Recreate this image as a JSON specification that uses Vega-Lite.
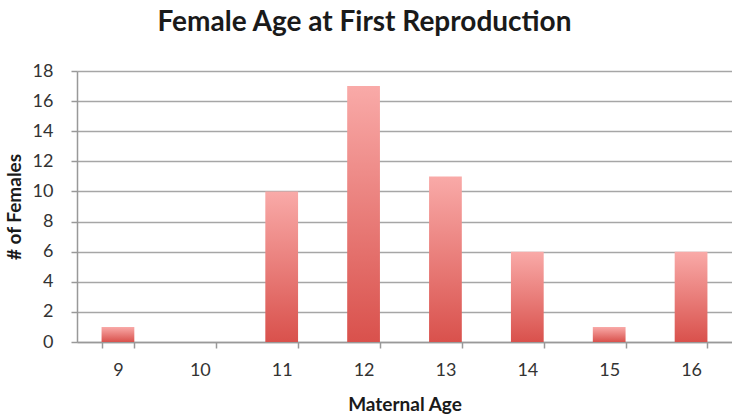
{
  "$schema": "https://vega.github.io/schema/vega-lite/v6.json",
  "autosize": "none",
  "width": 655,
  "height": 271,
  "padding": {"left": 77, "top": 71, "right": 0, "bottom": 75},
  "background": "white",
  "title": {
    "text": "Female Age at First Reproduction",
    "font": "Lato",
    "fontSize": 28,
    "fontWeight": "bold",
    "color": "#1a1a1a",
    "anchor": "middle",
    "dx": -40,
    "offset": 25
  },
  "data": {
    "values": [
      {"age": "9", "females": 1},
      {"age": "10", "females": 0},
      {"age": "11", "females": 10},
      {"age": "12", "females": 17},
      {"age": "13", "females": 11},
      {"age": "14", "females": 6},
      {"age": "15", "females": 1},
      {"age": "16", "females": 6}
    ]
  },
  "mark": {
    "type": "bar",
    "fill": {
      "gradient": "linear",
      "x1": 0, "y1": 0, "x2": 0, "y2": 1,
      "stops": [
        {"offset": 0, "color": "#f9aaa8"},
        {"offset": 1, "color": "#d9514c"}
      ]
    }
  },
  "encoding": {
    "x": {
      "field": "age",
      "type": "ordinal",
      "sort": null,
      "title": "Maternal Age",
      "scale": {"paddingInner": 0.6, "paddingOuter": 0.3},
      "axis": {
        "labelAngle": 0,
        "labelFont": "Lato",
        "labelFontSize": 18,
        "labelColor": "#333333",
        "labelPadding": 13,
        "tickBand": "extent",
        "tickSize": 6,
        "tickColor": "#999999",
        "tickWidth": 1.5,
        "domainColor": "#999999",
        "domainWidth": 1.5,
        "titleFont": "Lato",
        "titleFontSize": 19,
        "titleFontWeight": "bold",
        "titleColor": "#1a1a1a",
        "titlePadding": 16
      }
    },
    "y": {
      "field": "females",
      "type": "quantitative",
      "title": "# of Females",
      "scale": {"domain": [0, 18]},
      "axis": {
        "values": [0, 2, 4, 6, 8, 10, 12, 14, 16, 18],
        "labelFont": "Lato",
        "labelFontSize": 18,
        "labelColor": "#333333",
        "labelPadding": 18,
        "tickSize": 6,
        "tickColor": "#999999",
        "tickWidth": 1.5,
        "domainColor": "#999999",
        "domainWidth": 1.5,
        "grid": true,
        "gridColor": "#a6a6a6",
        "gridWidth": 1.5,
        "titleFont": "Lato",
        "titleFontSize": 19,
        "titleFontWeight": "bold",
        "titleColor": "#1a1a1a",
        "titlePadding": 8
      }
    }
  },
  "config": {"view": {"stroke": null}}
}
